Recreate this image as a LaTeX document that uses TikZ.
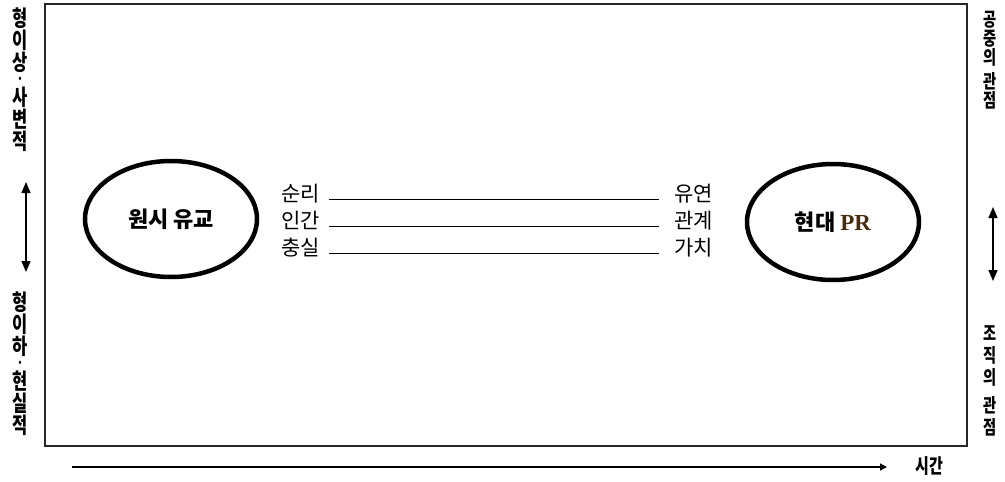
\documentclass[tikz,border=0pt]{standalone}
\usepackage{fontspec}
\setmainfont{Liberation Serif}
\newfontfamily\kr{Noto Sans CJK KR}
\newfontfamily\krc[FakeStretch=0.75]{Noto Sans CJK KR}
\usetikzlibrary{shapes.geometric,arrows.meta}
\definecolor{prcol}{RGB}{70,45,15}
\newcommand{\vdot}{{\fontsize{15}{15}\selectfont ·}}
\begin{document}
\begin{tikzpicture}[x=1pt,y=-1pt,
  frame/.style={draw=black!85,line width=1.5pt},
  oval/.style={ellipse,draw,line width=4.5pt,minimum width=172pt,minimum height=116pt,inner sep=0pt,
    font=\kr\bfseries\fontsize{22}{26}\selectfont},
  lab/.style={inner sep=0pt,font=\kr\fontsize{21}{24}\selectfont},
  conn/.style={draw=black,line width=1pt},
  vl/.style={align=center,inner sep=0pt,font=\krc\bfseries\fontsize{22}{22}\selectfont},
  vrtop/.style={align=center,inner sep=0pt,font=\krc\bfseries\fontsize{19}{19}\selectfont},
  vrbot/.style={align=center,inner sep=0pt,font=\krc\bfseries\fontsize{19}{22}\selectfont},
  varrow/.style={line width=1.3pt,{Triangle[width=9pt,length=11pt]}-{Triangle[width=9pt,length=11pt]}},
  tarrow/.style={line width=1.3pt,-{Triangle[width=7pt,length=7pt]}}]
\useasboundingbox (0,0) rectangle (1005,482);
% frame
\draw[frame] (45,4) rectangle (967,446);
% ellipses
\node[oval] (e1) at (171,219) {원시 유교};
\node[oval] (e2) at (833,222) {현대 {\rmfamily\fontsize{23}{26}\selectfont\color{prcol}PR}};
% labels
\node[lab,anchor=base west] (l1) at (281,201) {순리};
\node[lab,anchor=base west] (l2) at (281,228) {인간};
\node[lab,anchor=base west] (l3) at (281,255) {충실};
\node[lab,anchor=base west] (r1) at (674,201) {유연};
\node[lab,anchor=base west] (r2) at (674,228) {관계};
\node[lab,anchor=base west] (r3) at (674,255) {가치};
\draw[conn] ([xshift=9pt,yshift=2pt]l1.base east) -- ([xshift=-15pt,yshift=2pt]r1.base west);
\draw[conn] ([xshift=9pt,yshift=2pt]l2.base east) -- ([xshift=-15pt,yshift=2pt]r2.base west);
\draw[conn] ([xshift=9pt,yshift=2pt]l3.base east) -- ([xshift=-15pt,yshift=2pt]r3.base west);
% left vertical texts
\node[vl] (lt) at (20,80) {형\\이\\상\\[-8pt]\vdot\\[-1pt]사\\변\\적};
\node[vl] (lb) at (20,364) {형\\이\\하\\[-8pt]\vdot\\[-1pt]현\\실\\적};
\coordinate (la1) at (26,182);
\coordinate (la2) at (26,272);
\draw[varrow] (la1) -- (la2);
% right vertical texts
\node[vrtop] (rt) at (990,60) {공\\중\\의\\[5pt]관\\점};
\node[vrbot] (rb) at (990,381) {조\\직\\의\\[6pt]관\\점};
\coordinate (ra1) at (993,207);
\coordinate (ra2) at (993,281);
\draw[varrow] (ra1) -- (ra2);
% time axis
\node[inner sep=0pt,font=\krc\bfseries\fontsize{20}{22}\selectfont] (time) at (929,466) {시간};
\coordinate (t0) at (72,467);
\coordinate (t1) at (887,467);
\draw[tarrow] (t0) -- (t1);
\end{tikzpicture}
\end{document}
